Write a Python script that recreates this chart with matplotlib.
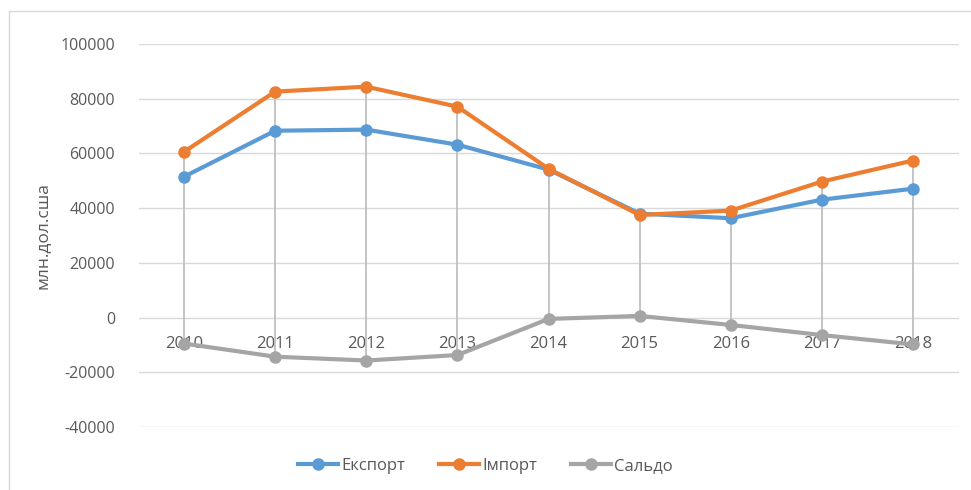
import numpy as np
import matplotlib.pyplot as plt
from matplotlib.lines import Line2D

plt.rcParams['font.family'] = ['Open Sans', 'DejaVu Sans']
plt.rcParams['axes.unicode_minus'] = False

# Дані
years = ['2010', '2011', '2012', '2013', '2014', '2015', '2016', '2017', '2018']
export = [51500, 68300, 68700, 63200, 54100, 38000, 36300, 43100, 47100]
imports = [60600, 82600, 84400, 77100, 54400, 37500, 39100, 49700, 57400]
saldo = [-9500, -14300, -15700, -13700, -500, 600, -2700, -6400, -9800]

c_exp = '#5B9BD5'
c_imp = '#ED7D31'
c_sal = '#A5A5A5'
txt = '#595959'

fig = plt.figure(figsize=(9.71, 4.90), dpi=100)
ax = fig.add_axes([138.5 / 971, 1 - 427 / 490, 820 / 971, 383 / 490])

x = np.arange(len(years))

# лінії максимум-мінімум
hi = np.maximum.reduce([export, imports, saldo])
lo = np.minimum.reduce([export, imports, saldo])
ax.vlines(x, lo, hi, color='#BFBFBF', lw=1.3, zorder=2)

ax.plot(x, saldo, color=c_sal, lw=3, marker='o', ms=8, zorder=3, solid_capstyle='round')
ax.plot(x, export, color=c_exp, lw=3, marker='o', ms=8, zorder=4, solid_capstyle='round')
ax.plot(x, imports, color=c_imp, lw=3, marker='o', ms=8, zorder=5, solid_capstyle='round')

ax.set_xlim(-0.5, len(years) - 0.5)
ax.set_ylim(-40000, 100000)
ax.set_yticks(np.arange(-40000, 100001, 20000))
ax.yaxis.grid(True, color='#D9D9D9', lw=1)
ax.set_axisbelow(True)
ax.set_xticks([])
for s in ax.spines.values():
    s.set_visible(False)
ax.tick_params(axis='y', length=0, pad=17, labelsize=11.5, labelcolor=txt)

# підписи років біля нульової лінії
for i, yr in enumerate(years):
    ax.text(i, -9500, yr, ha='center', va='center', fontsize=12, color=txt, zorder=1)

ax.set_ylabel('млн.дол.сша', fontsize=12.5, color=txt, labelpad=7)

handles = [Line2D([], [], color=c, lw=3, marker='o', ms=8) for c in (c_exp, c_imp, c_sal)]
fig.legend(handles, ['Експорт', 'Імпорт', 'Сальдо'], loc='center', bbox_to_anchor=(0.5, 1 - 466 / 490),
           ncol=3, frameon=False, fontsize=12, labelcolor=txt, handlelength=2.4, handletextpad=0.2,
           columnspacing=2.0)

# рамка
fig.add_artist(Line2D([9 / 971, 9 / 971], [0, 1 - 11 / 490], color='#D9D9D9', lw=1))
fig.add_artist(Line2D([9 / 971, 1], [1 - 11 / 490, 1 - 11 / 490], color='#D9D9D9', lw=1))

fig.savefig('out.png', dpi=100)
